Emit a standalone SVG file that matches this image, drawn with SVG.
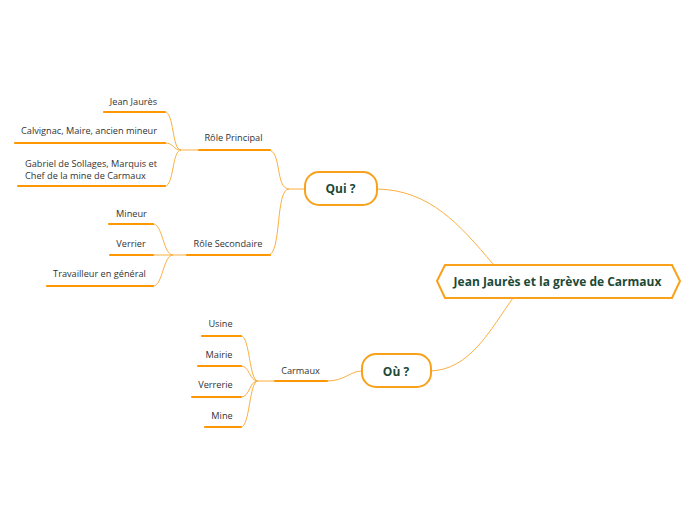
<svg xmlns="http://www.w3.org/2000/svg" width="696" height="520" viewBox="0 0 696 520">
<style>
.main{fill:#fff;stroke:#f9a11b;stroke-width:2}
.mt{font-family:"Open Sans","Noto Sans",sans-serif;font-weight:bold;fill:#1b4a37;text-anchor:middle}
.t{font-family:"Open Sans","Noto Sans",sans-serif;font-size:9.2px;fill:#333;text-anchor:middle}
.u{stroke:#ff9800;stroke-width:2.2;fill:none;stroke-linecap:round}
.c{stroke:#fbb040;stroke-width:1;fill:none}
</style>
<rect width="696" height="520" fill="#fff"/>
<g id="connectors">
<path class="c" d="M377,189 C430,190 460,225 493,264"/>
<path class="c" d="M430,371 C470,370 490,330 513,298"/>
<path class="c" d="M305,189 L289,189 C275,189 282,150 268,150"/>
<path class="c" d="M289,189 C275,189 282,255 268,255"/>
<path class="c" d="M199,150 L181,150 C172,150 174,112 165,112"/>
<path class="c" d="M181,150 C173,150 174,143 165,143"/>
<path class="c" d="M181,150 C172,150 174,186 165,186"/>
<path class="c" d="M187,255 L173,255 C163,255 163,224 153,224"/>
<path class="c" d="M173,255 L153,255"/>
<path class="c" d="M173,255 C163,255 163,286 153,286"/>
<path class="c" d="M362,371 C350,371 345,381 327,381"/>
<path class="c" d="M275,381 L258,381 C249,381 250,336 241,336"/>
<path class="c" d="M258,381 C249,381 250,366 241,366"/>
<path class="c" d="M258,381 C249,381 250,397 241,397"/>
<path class="c" d="M258,381 C249,381 250,427 241,427"/>
</g>
<g id="central">
<polygon class="main" points="437,281 445,265 672,265 680,281 672,298 445,298"/>
<text class="mt" x="557.5" y="286" font-size="12">Jean Jaurès et la grève de Carmaux</text>
</g>
<g id="qui">
<rect class="main" x="305" y="172" width="72" height="33" rx="14"/>
<text class="mt" x="340.5" y="193" font-size="12">Qui ?</text>
</g>
<g id="ou">
<rect class="main" x="362" y="354" width="69" height="33" rx="14"/>
<text class="mt" x="396" y="376" font-size="12">Où ?</text>
</g>
<g id="role-principal">
<line class="u" x1="199" y1="150" x2="270" y2="150"/>
<text class="t" x="233.5" y="141">Rôle Principal</text>
</g>
<g id="jean-jaures">
<line class="u" x1="104" y1="112" x2="165" y2="112"/>
<text class="t" x="133.5" y="105">Jean Jaurès</text>
</g>
<g id="calvignac">
<line class="u" x1="15" y1="143" x2="165" y2="143"/>
<text class="t" x="89" y="134">Calvignac, Maire, ancien mineur</text>
</g>
<g id="gabriel">
<line class="u" x1="18" y1="186" x2="165" y2="186"/>
<text class="t" x="25" y="167" style="text-anchor:start">Gabriel de Sollages, Marquis et</text>
<text class="t" x="25" y="179" style="text-anchor:start">Chef de la mine de Carmaux</text>
</g>
<g id="role-secondaire">
<line class="u" x1="187" y1="255" x2="270" y2="255"/>
<text class="t" x="228" y="247">Rôle Secondaire</text>
</g>
<g id="mineur">
<line class="u" x1="109" y1="224" x2="153" y2="224"/>
<text class="t" x="131.5" y="217">Mineur</text>
</g>
<g id="verrier">
<line class="u" x1="110" y1="255" x2="153" y2="255"/>
<text class="t" x="131" y="247">Verrier</text>
</g>
<g id="travailleur">
<line class="u" x1="47" y1="286" x2="153" y2="286"/>
<text class="t" x="99.5" y="277">Travailleur en général</text>
</g>
<g id="carmaux">
<line class="u" x1="275" y1="381" x2="327" y2="381"/>
<text class="t" x="300.5" y="374">Carmaux</text>
</g>
<g id="usine">
<line class="u" x1="202" y1="336" x2="241" y2="336"/>
<text class="t" x="220.5" y="327">Usine</text>
</g>
<g id="mairie">
<line class="u" x1="198" y1="366" x2="241" y2="366"/>
<text class="t" x="219" y="358">Mairie</text>
</g>
<g id="verrerie">
<line class="u" x1="192" y1="397" x2="241" y2="397"/>
<text class="t" x="215.5" y="388">Verrerie</text>
</g>
<g id="mine">
<line class="u" x1="205" y1="427" x2="241" y2="427"/>
<text class="t" x="222" y="419">Mine</text>
</g>
</svg>
